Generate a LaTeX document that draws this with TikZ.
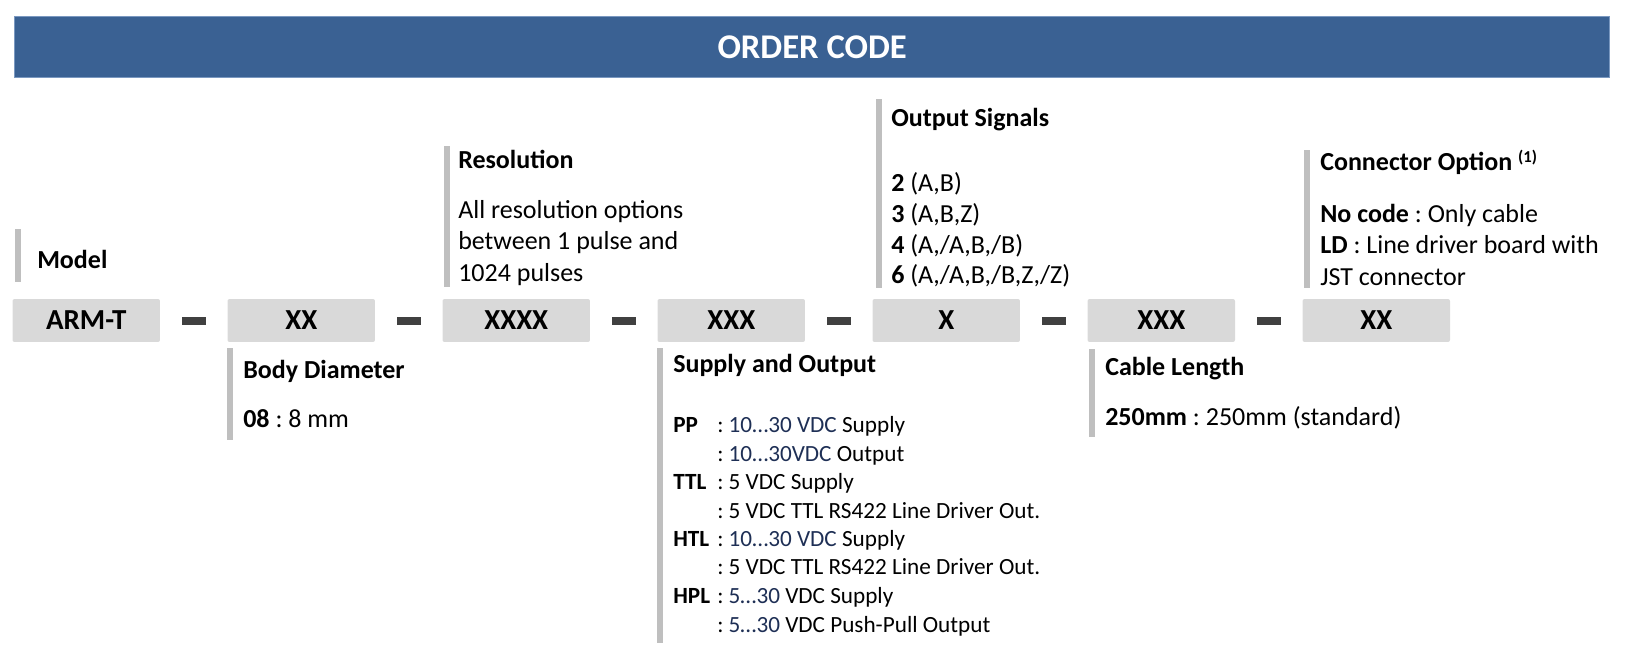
\documentclass[tikz,border=0pt]{standalone}
\usepackage{fontspec}
\setmainfont{Carlito}
\definecolor{bannerblue}{HTML}{3A6193}
\definecolor{banneredge}{HTML}{7A98C0}
\definecolor{boxgray}{HTML}{D9D9D9}
\definecolor{bargray}{HTML}{BFBFBF}
\definecolor{dashgray}{HTML}{404040}
\definecolor{navy}{HTML}{1E2F55}
\newcommand{\mainsize}{\fontsize{19.5pt}{23.6pt}\selectfont}
\newcommand{\listsize}{\fontsize{17.4pt}{21pt}\selectfont}
\newcommand{\nv}[1]{\textcolor{navy}{#1}}
\frenchspacing
\begin{document}
\begin{tikzpicture}[x=0.75pt,y=-0.75pt,
  banner/.style={fill=bannerblue,draw=banneredge,line width=0.6pt},
  codebox/.style={fill=boxgray,rounded corners=1.5pt,minimum width=110.6pt,minimum height=32.2pt,inner sep=0pt,
    font=\fontsize{21.75pt}{24pt}\selectfont\bfseries},
  dashbar/.style={fill=dashgray,minimum width=18pt,minimum height=6pt,inner sep=0pt},
  sidebar/.style={fill=bargray},
  txt/.style={anchor=base west,inner sep=0pt,font=\mainsize\frenchspacing},
  hdr/.style={anchor=base west,inner sep=0pt,font=\mainsize\bfseries\frenchspacing},
  lst/.style={anchor=base west,inner sep=0pt,font=\listsize\frenchspacing},
  lstkey/.style={anchor=base west,inner sep=0pt,font=\listsize\bfseries}]
\useasboundingbox (0,0) rectangle (1626,660);
% banner
\path[banner] (14.7,16) rectangle (1609.7,77.7);
\node[text=white,font=\fontsize{26pt}{30pt}\selectfont\bfseries] (title) at (812.2,46.9) {ORDER CODE};
% code boxes
\node[codebox] (c1) at (86.25,320.5) {ARM-T};
\node[codebox] (c2) at (301.25,320.5) {XX};
\node[codebox] (c3) at (516.25,320.5) {XXXX};
\node[codebox] (c4) at (731.25,320.5) {XXX};
\node[codebox] (c5) at (946.25,320.5) {X};
\node[codebox] (c6) at (1161.25,320.5) {XXX};
\node[codebox] (c7) at (1376.25,320.5) {XX};
% dashes
\node[dashbar] (d1) at (193.75,320.7) {};
\node[dashbar] (d2) at (408.75,320.7) {};
\node[dashbar] (d3) at (623.75,320.7) {};
\node[dashbar] (d4) at (838.75,320.7) {};
\node[dashbar] (d5) at (1053.75,320.7) {};
\node[dashbar] (d6) at (1268.75,320.7) {};
% Model
\fill[sidebar] (15,229) rectangle (21,282);
\node[hdr] (model) at (37,268) {Model};
% Body diameter
\fill[sidebar] (227,348) rectangle (233,440);
\node[hdr] (bodyh) at (243,378) {Body Diameter};
\node[txt] (body1) at (243,427) {\textbf{08} : 8 mm};
% Resolution
\fill[sidebar] (444,146) rectangle (450,287);
\node[hdr] (resh) at (458,168) {Resolution};
\node[txt] (res1) at (458,218) {All resolution options};
\node[txt] (res2) at (458,249.5) {between 1 pulse and};
\node[txt] (res3) at (458,281) {1024 pulses};
% Supply and output
\fill[sidebar] (657,348) rectangle (663,643);
\node[hdr] (suph) at (673,372) {Supply and Output};
\node[lstkey] (k1) at (673,432) {PP};
\node[lst] (s1) at (717,432) {: \nv{10…30 VDC} Supply};
\node[lst] (s2) at (717,461) {: \nv{10…30VDC} Output};
\node[lstkey] (k2) at (673,489) {TTL};
\node[lst] (s3) at (717,489) {: 5 VDC Supply};
\node[lst] (s4) at (717,518) {: 5 VDC TTL RS422 Line Driver Out.};
\node[lstkey] (k3) at (673,546) {HTL};
\node[lst] (s5) at (717,546) {: \nv{10…30 VDC} Supply};
\node[lst] (s6) at (717,574) {: 5 VDC TTL RS422 Line Driver Out.};
\node[lstkey] (k4) at (673,603) {HPL};
\node[lst] (s7) at (717,603) {: \nv{5…30} VDC Supply};
\node[lst] (s8) at (717,632) {: \nv{5…30} VDC Push-Pull Output};
% Output signals
\fill[sidebar] (876,99) rectangle (882,288);
\node[hdr] (outh) at (891,126) {Output Signals};
\node[txt] (o1) at (891,191) {\textbf{2} (A,B)};
\node[txt] (o2) at (891,222) {\textbf{3} (A,B,Z)};
\node[txt] (o3) at (891,253) {\textbf{4} (A,/A,B,/B)};
\node[txt] (o4) at (891,283) {\textbf{6} (A,/A,B,/B,Z,/Z)};
% Cable length
\fill[sidebar] (1089,349) rectangle (1095,437);
\node[hdr] (cabh) at (1105,375) {Cable Length};
\node[txt] (cab1) at (1105,425) {\textbf{250mm} : 250mm (standard)};
% Connector option
\fill[sidebar] (1304,150) rectangle (1310,288);
\node[hdr] (conh) at (1320,170) {Connector Option \raisebox{5.5pt}{\fontsize{12.5pt}{13pt}\selectfont (1)}};
\node[txt] (con1) at (1320,222) {\textbf{No code} : Only cable};
\node[txt] (con2) at (1320,253.5) {\textbf{LD} : Line driver board with};
\node[txt] (con3) at (1320,285) {JST connector};
\end{tikzpicture}
\end{document}
